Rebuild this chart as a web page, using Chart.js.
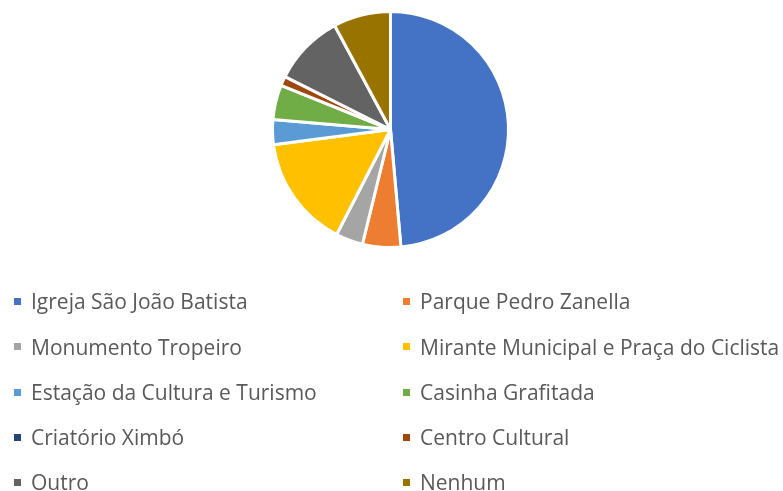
<!DOCTYPE html>
<html>
<head>
<meta charset="utf-8">
<script src="https://cdn.jsdelivr.net/npm/chart.js@4.4.0/dist/chart.umd.min.js"></script>
<style>
    html, body { margin: 0; padding: 0; background: #ffffff; }
    #wrap { position: relative; width: 783px; height: 491px; overflow: hidden; }
    #pieBox { position: absolute; left: 0; top: 0; width: 783px; height: 260px; }
    #legend { position: absolute; left: 0; top: 0; width: 783px; height: 491px; }
    .item { position: absolute; font-family: 'Open Sans', sans-serif; font-size: 21px;
            color: #595959; white-space: nowrap; line-height: 24px; }
    .box { position: absolute; width: 7px; height: 7px; }
</style>
</head>
<body>
<div id="wrap">
    <div id="pieBox"><canvas id="pieChart"></canvas></div>
    <div id="legend"></div>
</div>
<script>
/* ============================
   Data
   ============================ */
const labels = [
    "Igreja São João Batista",
    "Parque Pedro Zanella",
    "Monumento Tropeiro",
    "Mirante Municipal e Praça do Ciclista",
    "Estação da Cultura e Turismo",
    "Casinha Grafitada",
    "Criatório Ximbó",
    "Centro Cultural",
    "Outro",
    "Nenhum"
];
const values = [48.3, 5.2, 3.7, 15.3, 3.4, 4.7, 0, 1.3, 9.7, 7.8];
const colors = [
    "#4472c4", "#ed7d31", "#a5a5a5", "#ffc000", "#5b9bd5",
    "#70ad47", "#264478", "#9e480e", "#636363", "#997300"
];

/* ============================
   Pie
   ============================ */
new Chart(document.getElementById("pieChart"), {
    type: "pie",
    data: {
        labels: labels,
        datasets: [{
            data: values,
            backgroundColor: colors,
            borderColor: "#ffffff",
            borderWidth: 3
        }]
    },
    options: {
        responsive: true,
        maintainAspectRatio: false,
        animation: false,
        layout: { padding: { top: 10, bottom: 11, left: 0, right: 2 } },
        plugins: {
            legend: { display: false },
            tooltip: { enabled: false }
        }
    }
});

/* ============================
   Legend (two columns)
   ============================ */
const legend = document.getElementById("legend");
const colX = [14, 403];
const rowY = [301, 346.5, 392, 437, 482];

labels.forEach(function(name, i) {
    const col = i % 2;
    const row = Math.floor(i / 2);
    const box = document.createElement("div");
    box.className = "box";
    box.style.left = colX[col] + "px";
    box.style.top = (rowY[row] - 3.5) + "px";
    box.style.background = colors[i];
    legend.appendChild(box);

    const txt = document.createElement("div");
    txt.className = "item";
    txt.style.left = (colX[col] + 17) + "px";
    txt.style.top = (rowY[row] - 12) + "px";
    txt.textContent = name;
    legend.appendChild(txt);
});
</script>
</body>
</html>
